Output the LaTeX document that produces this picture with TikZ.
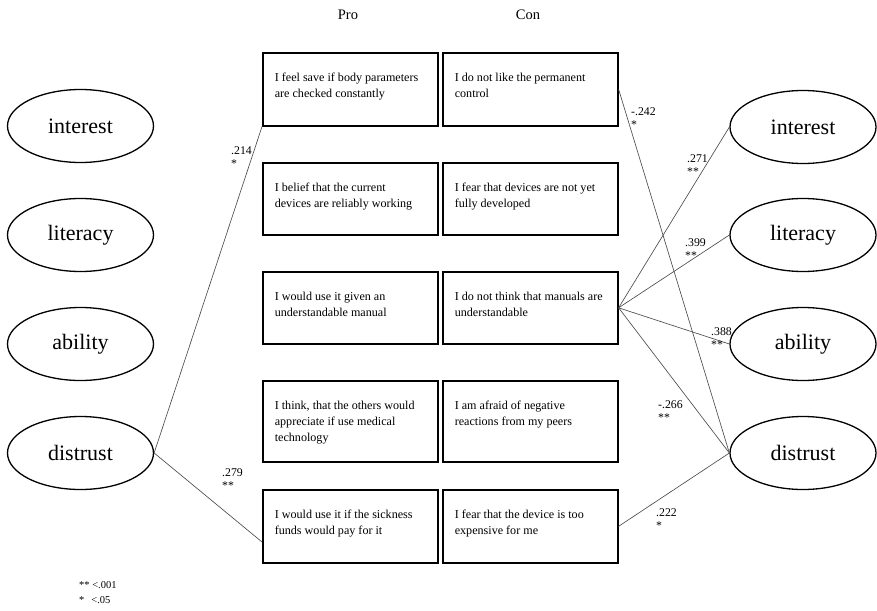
\documentclass[tikz,border=0pt]{standalone}
\usepackage{fontspec}
\setmainfont{Liberation Serif}
\usetikzlibrary{shapes.geometric,calc}

% statement text inside a box: top aligned, 12pt left indent
\newcommand\cellbody[2]{\parbox[c][#1][t]{175pt}{\raggedright\leftskip=12pt
  \fontsize{12.1}{16}\selectfont\rule{0pt}{29pt}#2}}

\begin{document}
\begin{tikzpicture}[x=1pt,y=-1pt,
  ell/.style={ellipse, draw, line width=1.3pt, minimum width=146pt,
    minimum height=73pt, inner sep=0pt, font=\fontsize{22}{22}\selectfont},
  cell/.style={draw, line width=1.6pt, anchor=north west, inner sep=0pt,
    minimum width=175pt},
  conn/.style={draw=black!70, line width=0.65pt},
  coef/.style={anchor=north west, inner sep=0pt, align=left,
    font=\fontsize{11.8}{13}\selectfont},
  head/.style={font=\fontsize{14.5}{14.5}\selectfont}]
\useasboundingbox (0,0) rectangle (877,610);

% column headings
\node[head] (pro) at (348,15) {Pro};
\node[head] (con) at (528,15) {Con};

% latent factors, left
\node[ell] (Lint) at (80.5,126) {interest};
\node[ell] (Llit) at (80.5,235) {literacy};
\node[ell] (Labi) at (80.5,344) {ability};
\node[ell] (Ldis) at (80.5,453) {distrust};

% latent factors, right
\node[ell] (Rint) at (803,127) {interest};
\node[ell] (Rlit) at (803,235) {literacy};
\node[ell] (Rabi) at (803,344) {ability};
\node[ell] (Rdis) at (803,453) {distrust};

% pro statements
\node[cell] (P1) at (262,52)  {\cellbody{73pt}{I feel save if body parameters\\are checked constantly}};
\node[cell] (P2) at (262,162) {\cellbody{72pt}{I belief that the current\\devices are reliably working}};
\node[cell] (P3) at (262,271) {\cellbody{72pt}{I would use it given an\\understandable manual}};
\node[cell] (P4) at (262,380) {\cellbody{81pt}{I think, that the others would\\appreciate if use medical\\technology}};
\node[cell] (P5) at (262,489) {\cellbody{73pt}{I would use it if the sickness\\funds would pay for it}};

% con statements
\node[cell] (C1) at (442,52)  {\cellbody{73pt}{I do not like the permanent\\control}};
\node[cell] (C2) at (442,162) {\cellbody{72pt}{I fear that devices are not yet\\fully developed}};
\node[cell] (C3) at (442,271) {\cellbody{72pt}{I do not think that manuals are\\understandable}};
\node[cell] (C4) at (442,380) {\cellbody{81pt}{I am afraid of negative\\reactions from my peers}};
\node[cell] (C5) at (442,489) {\cellbody{73pt}{I fear that the device is too\\expensive for me}};

% paths
\draw[conn] (Ldis.east) -- (P1.south west);
\draw[conn] (Ldis.east) -- ($(P5.north west)!0.71!(P5.south west)$);
\draw[conn] (C1.east) -- (Rdis.west);
\draw[conn] (C3.east) -- (Rint.west);
\draw[conn] (C3.east) -- (Rlit.west);
\draw[conn] (C3.east) -- (Rabi.west);
\draw[conn] (C3.east) -- (Rdis.west);
\draw[conn] (C5.east) -- (Rdis.west);

% coefficients
\node[coef] (k214) at (231,146) {.214\\*};
\node[coef] (k279) at (222,468) {.279\\**};
\node[coef] (k242) at (631,107) {-.242\\*};
\node[coef] (k271) at (687,154) {.271\\**};
\node[coef] (k399) at (685,238) {.399\\**};
\node[coef] (k388) at (711,327) {.388\\**};
\node[coef] (k266) at (658,400) {-.266\\**};
\node[coef] (k222) at (656,508) {.222\\*};

% significance key
\node[anchor=north west, inner sep=0pt, align=left,
  font=\fontsize{10.5}{15}\selectfont] (key) at (79,581) {** <.001\\*\hspace{7pt}<.05};
\end{tikzpicture}
\end{document}
